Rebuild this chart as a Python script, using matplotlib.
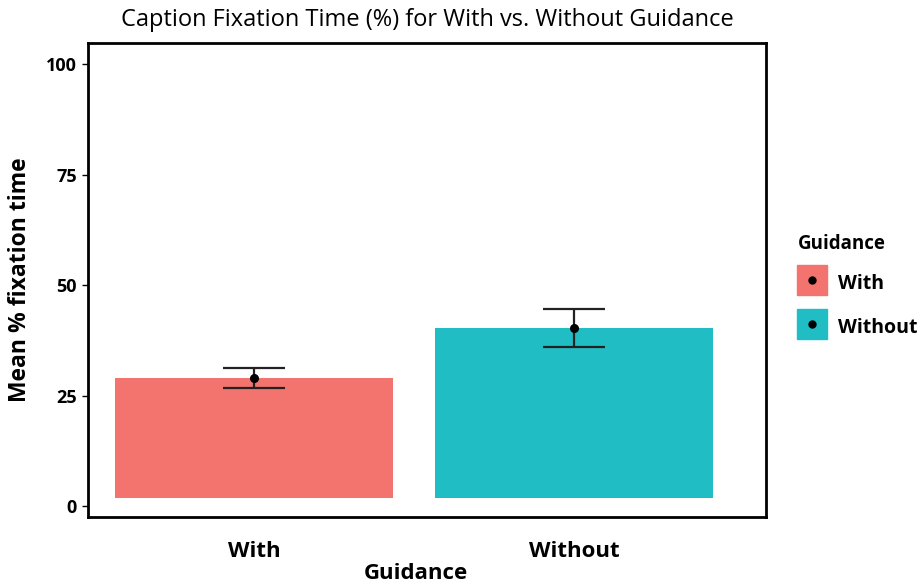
import matplotlib
matplotlib.use("Agg")
import matplotlib.pyplot as plt
from matplotlib.lines import Line2D

categories = ["With", "Without"]
means = [28.9, 40.2]
ci_low = [26.6, 35.9]
ci_high = [31.3, 44.7]
bar_base = 1.9
colors = ["#F3746E", "#20BEC4"]
yticks = [0, 25, 50, 75, 100]

plt.rcParams['font.family'] = ['Open Sans', 'DejaVu Sans']

fig = plt.figure(figsize=(9.24, 5.88), dpi=100)
ax = fig.add_axes([0.0952, 0.1207, 0.7338, 0.8062])

x = list(range(len(categories)))
ax.bar(x, [m - bar_base for m in means], bottom=bar_base, width=0.87,
       color=colors, zorder=1)
yerr = [[m - l for m, l in zip(means, ci_low)], [h - m for m, h in zip(means, ci_high)]]
ax.errorbar(x, means, yerr=yerr, fmt='o', color='black', ms=5.5,
            ecolor='#222222', elinewidth=1.6, capsize=22.5, capthick=1.6, zorder=3)

ax.set_xlim(-0.52, 1.6)
ax.set_ylim(-2.5, 104.8)
ax.set_yticks(yticks)
ax.set_yticklabels([str(t) for t in yticks], fontsize=13, fontweight='bold')
ax.set_xticks(x)
ax.set_xticklabels(categories, fontsize=16, fontweight='bold')
ax.tick_params(axis='y', length=4, width=1, pad=4)
ax.tick_params(axis='x', length=0, pad=17)
for s in ax.spines.values():
    s.set_linewidth(2)
    s.set_color('black')

ax.set_xlabel("Guidance", fontsize=16, fontweight='bold')
ax.xaxis.set_label_coords(0.483, -0.096)
ax.set_ylabel("Mean % fixation time", fontsize=16.5, fontweight='bold')
ax.yaxis.set_label_coords(-0.082, 0.5)
ax.set_title("Caption Fixation Time (%) for With vs. Without Guidance",
             fontsize=17, pad=12)

handles = [(Line2D([], [], marker='s', color=c, ls='none', ms=21),
            Line2D([], [], marker='o', color='black', ls='none', ms=5))
           for c in colors]
leg = fig.legend(handles, categories, title="Guidance", loc='upper left',
                 bbox_to_anchor=(0.855, 0.615), frameon=False,
                 handlelength=1.45, handleheight=1.45, handletextpad=0.6,
                 labelspacing=1.1, borderaxespad=0,
                 prop={'weight': 'bold', 'size': 14},
                 title_fontproperties={'weight': 'bold', 'size': 13.5})
leg._legend_box.align = "left"
leg._legend_box.sep = 12

fig.savefig("out.png", dpi=100)
